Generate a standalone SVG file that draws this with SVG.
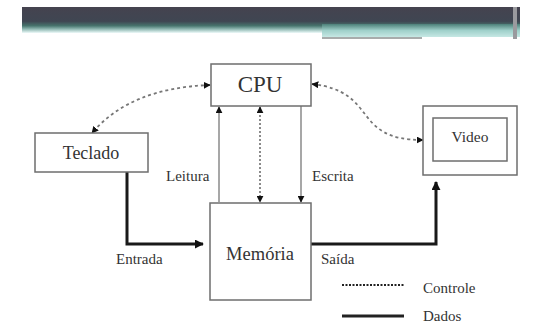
<svg xmlns="http://www.w3.org/2000/svg" width="533" height="325" viewBox="0 0 533 325">
<style>
.box{fill:#fff;stroke:#6e6e6e;stroke-width:1.5}
.t{font-family:"Liberation Serif","Times New Roman","DejaVu Serif",serif;fill:#333}
.l{font-size:15px}
.thin{stroke:#8a8a8a;stroke-width:1.5;fill:none}
.dot{stroke:#666;stroke-width:1.5;stroke-dasharray:2,2;fill:none}
.dash{stroke:#777;stroke-width:1.8;stroke-dasharray:3,3;fill:none}
.thick{stroke:#1a1a1a;stroke-width:3;fill:none}
</style>
<defs>
<linearGradient id="hdr" x1="0" y1="0" x2="0" y2="1">
<stop offset="0" stop-color="#45434f"/>
<stop offset="0.55" stop-color="#3f4652"/>
<stop offset="0.72" stop-color="#46736c"/>
<stop offset="0.85" stop-color="#8fb8b2"/>
<stop offset="1" stop-color="#eefafa"/>
</linearGradient>
<linearGradient id="hdr2" x1="0" y1="0" x2="0" y2="1">
<stop offset="0" stop-color="#4c7f78"/>
<stop offset="0.5" stop-color="#9fd0ca"/>
<stop offset="1" stop-color="#c6e8e4"/>
</linearGradient>
<marker id="ah" viewBox="0 0 10 10" refX="9" refY="5" markerWidth="7" markerHeight="7" orient="auto-start-reverse" markerUnits="userSpaceOnUse">
<path d="M0,0 L10,5 L0,10 z" fill="#111"/>
</marker>
<marker id="ahb" viewBox="0 0 10 10" refX="9" refY="5" markerWidth="9" markerHeight="9" orient="auto" markerUnits="userSpaceOnUse">
<path d="M0,0 L10,5 L0,10 z" fill="#111"/>
</marker>
</defs>
<rect width="533" height="325" fill="#fff"/>
<g id="header">
<rect x="22" y="7" width="498" height="26" fill="url(#hdr)"/>
<rect x="322" y="24" width="198" height="13" fill="url(#hdr2)"/>
<rect x="322" y="37" width="100" height="2" fill="#a8acac"/>
<rect x="513" y="7" width="4" height="32" fill="#9a9a9e"/>
</g>
<g id="connectors">
<path class="thick" d="M127,172 V244 H203" marker-end="url(#ahb)"/>
<path class="thick" d="M311,244 H436 V182" marker-end="url(#ahb)"/>
<path class="thin" d="M219,202 V107" marker-end="url(#ah)"/>
<path class="thin" d="M301,106 V202" marker-end="url(#ah)"/>
<path class="dot" d="M260,107 V202" marker-start="url(#ah)" marker-end="url(#ah)"/>
<path class="dash" d="M210,85 Q130,88 92,133" marker-start="url(#ah)" marker-end="url(#ah)"/>
<path class="dash" d="M312,84 C380,92 350,140 423,140" marker-start="url(#ah)" marker-end="url(#ah)"/>
</g>
<g id="cpu">
<rect class="box" x="211" y="64" width="100" height="42"/>
<text class="t" x="260" y="92" font-size="23" text-anchor="middle">CPU</text>
</g>
<g id="teclado">
<rect class="box" x="35" y="133" width="113" height="39"/>
<text class="t" x="91" y="159" font-size="18" text-anchor="middle">Teclado</text>
</g>
<g id="video">
<rect class="box" x="423" y="106" width="94" height="69"/>
<rect class="box" x="433" y="118" width="74" height="43"/>
<text class="t" x="470" y="142" font-size="15.5" text-anchor="middle">Video</text>
</g>
<g id="memoria">
<rect class="box" x="210" y="203" width="101" height="97"/>
<text class="t" x="260" y="260" font-size="18.5" text-anchor="middle">Memória</text>
</g>
<g id="labels">
<text class="t l" x="166" y="181">Leitura</text>
<text class="t l" x="312" y="181">Escrita</text>
<text class="t l" x="116" y="264">Entrada</text>
<text class="t l" x="321" y="264">Saída</text>
</g>
<g id="legend">
<line x1="342" y1="285" x2="404" y2="285" stroke="#222" stroke-width="2" stroke-dasharray="2,1.5"/>
<line x1="342" y1="316" x2="404" y2="316" stroke="#222" stroke-width="3"/>
<text class="t l" x="423" y="293">Controle</text>
<text class="t l" x="423" y="321">Dados</text>
</g>
</svg>
